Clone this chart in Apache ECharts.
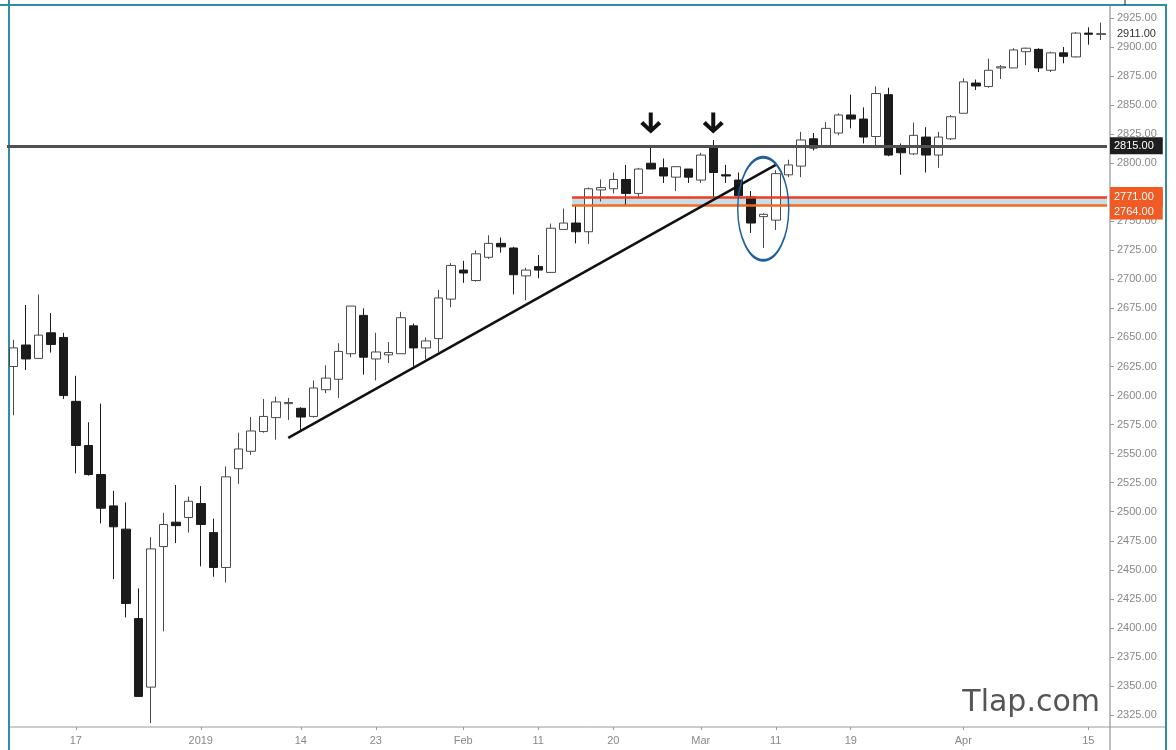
<!DOCTYPE html>
<html style="height: 100%;">
<head>
    <meta charset="utf-8">
    <title>S&amp;P candles</title>
    <script src="https://cdn.jsdelivr.net/npm/echarts@6/dist/echarts.min.js"></script>
    <style>
        html, body { height: 100%; margin: 0; padding: 0; background: #fff; }
        #main { width: 1176px; height: 750px; }
    </style>
</head>
<body>
    <div id="main"></div>
    <script type="text/javascript">
        // trading days, Dec 10 2018 .. Apr 16 2019
        var dates = [
            '12-10', '12-11', '12-12', '12-13', '12-14', '12-17', '12-18', '12-19', '12-20', '12-21', '12-24', '12-26', '12-27', '12-28', '12-31',
            '01-02', '01-03', '01-04', '01-07', '01-08', '01-09', '01-10', '01-11', '01-14', '01-15', '01-16', '01-17', '01-18', '01-22', '01-23', '01-24', '01-25', '01-28', '01-29', '01-30', '01-31',
            '02-01', '02-04', '02-05', '02-06', '02-07', '02-08', '02-11', '02-12', '02-13', '02-14', '02-15', '02-19', '02-20', '02-21', '02-22', '02-25', '02-26', '02-27', '02-28',
            '03-01', '03-04', '03-05', '03-06', '03-07', '03-08', '03-11', '03-12', '03-13', '03-14', '03-15', '03-18', '03-19', '03-20', '03-21', '03-22', '03-25', '03-26', '03-27', '03-28', '03-29',
            '04-01', '04-02', '04-03', '04-04', '04-05', '04-08', '04-09', '04-10', '04-11', '04-12', '04-15', '04-16'
        ];
        var opens = [
            2625, 2643.5, 2632, 2654, 2650, 2595, 2557, 2532, 2505, 2485, 2408, 2349, 2470, 2491, 2495,
            2507, 2482, 2452, 2537, 2552, 2569, 2581, 2593, 2589, 2582, 2605, 2614, 2636, 2669, 2631.5, 2635, 2636, 2660, 2641, 2649, 2683,
            2708, 2699, 2719, 2731, 2727, 2703, 2711, 2706, 2743, 2748.5, 2741, 2777, 2778, 2786, 2774, 2800, 2796, 2788, 2795,
            2785.5, 2814, 2790, 2785.5, 2771, 2754, 2751, 2790, 2797.5, 2821, 2814, 2826, 2841.5, 2838, 2823, 2859, 2814, 2808, 2822.5, 2807, 2821,
            2843, 2869, 2866, 2882, 2882, 2896, 2898, 2880, 2895, 2891.5, 2912, 2911
        ];
        var closes = [
            2641, 2631.5, 2652, 2644, 2600, 2557, 2532, 2503, 2487, 2421, 2341, 2468, 2489, 2488, 2509,
            2489, 2452, 2530, 2554, 2569.5, 2582, 2594.5, 2594, 2581.5, 2606.5, 2615, 2638, 2677, 2633, 2637.5, 2637, 2667, 2641, 2647, 2684, 2712,
            2705.5, 2722, 2731, 2728, 2704, 2708, 2708, 2744, 2748.5, 2741, 2778, 2779, 2786, 2774, 2795, 2795, 2789, 2797, 2788,
            2807, 2792, 2789, 2772, 2748.5, 2756, 2791, 2798.5, 2820, 2813, 2830, 2841.5, 2838, 2822.5, 2860, 2807, 2809, 2824, 2807, 2822.5, 2840,
            2870, 2866.5, 2880, 2883, 2897.5, 2899, 2882, 2895, 2892, 2912, 2911, 2911.5
        ];
        var lows = [
            2583, 2622, 2632, 2637, 2597, 2533, 2531, 2490, 2442, 2409, 2341, 2318, 2397, 2473, 2482,
            2453, 2444, 2439, 2524, 2549, 2568, 2562, 2579, 2570, 2581, 2602, 2598, 2633, 2618, 2613, 2628, 2636, 2625, 2631, 2637.5, 2676,
            2697, 2698, 2717.5, 2723, 2687, 2682, 2701, 2706, 2743, 2731, 2730.5, 2767, 2774, 2764, 2771, 2795, 2783, 2776, 2783,
            2783, 2770, 2783, 2771, 2740, 2727, 2742.5, 2788, 2788, 2811, 2813, 2824, 2830, 2817, 2814, 2806, 2790, 2807, 2792, 2796, 2820,
            2843, 2863, 2865, 2872.5, 2882, 2884.5, 2878.5, 2878.5, 2886, 2891, 2902, 2906
        ];
        var highs = [
            2648, 2678, 2687, 2671, 2654, 2617, 2577, 2593, 2518, 2508, 2434, 2478, 2499, 2523, 2513,
            2522, 2494, 2539, 2568, 2581.5, 2597, 2599, 2598, 2590, 2613, 2626, 2645, 2677, 2675, 2654, 2646, 2672, 2662, 2650, 2691, 2714,
            2716, 2725, 2738, 2736, 2728, 2710, 2721, 2748, 2761, 2764, 2779, 2786, 2792, 2798.5, 2796, 2814, 2804, 2797, 2795,
            2809, 2820, 2798.5, 2792, 2776, 2757, 2794, 2803, 2827, 2826, 2835.5, 2843, 2859, 2848, 2866, 2865, 2817, 2835, 2831, 2827, 2841.5,
            2873, 2872, 2890, 2884.5, 2899, 2899.5, 2899, 2896, 2900, 2913, 2917, 2921
        ];
        // x axis labels (index into dates)
        var tickIndex = [5, 15, 23, 29, 36, 42, 48, 55, 61, 67, 76, 86];
        var tickText = ['17', '2019', '14', '23', 'Feb', '11', '20', 'Mar', '11', '19', 'Apr', '15'];
        // price levels drawn on the chart
        var resistance = 2815;
        var zoneTop = 2771;
        var zoneBottom = 2764;
        var zoneStart = 44.7;
        var lastPrice = 2911;
        var trendFrom = [22, 2563.5];
        var trendTo = [61, 2798.5];
        var arrowAt = [[51, 2834.6], [56, 2834.6]];
        var circleAt = [60, 2760.8];

        // day index on a value axis, so annotations can run to the axis edge
        var xMin = -0.5;
        var xMax = dates.length - 0.5;

        var candles = dates.map(function (d, i) {
            return [i, opens[i], closes[i], lows[i], highs[i]];
        });
        var tickLabel = {};
        tickIndex.forEach(function (idx, k) { tickLabel[idx] = tickText[k]; });
        function isTick(idx) { return tickLabel[idx] !== undefined; }

        var arrowPath = 'path://M8.5,0 L12.5,0 L12.5,14 L18,8.5 L21,11.5 L10.5,21 L0,11.5 L3,8.5 L8.5,14 Z';
        var boxLabel = function (text, bg, padding) {
            return {
                show: true, position: 'end', distance: 3, formatter: text,
                color: '#fff', backgroundColor: bg, padding: padding || [2, 9, 2, 4],
                fontSize: 11, lineHeight: 13, fontFamily: 'Liberation Sans'
            };
        };

        var myChart = echarts.init(document.getElementById('main'));
        var option = {
            animation: false,
            backgroundColor: '#fff',
            grid: { left: 7, right: 69, top: 18, bottom: 35 },
            xAxis: [{
                type: 'value',
                min: xMin,
                max: xMax,
                show: false
            }, {
                // date labels only
                type: 'category',
                data: dates,
                boundaryGap: true,
                position: 'bottom',
                offset: 12,
                axisLine: { show: false },
                axisTick: {
                    show: true, alignWithLabel: true, length: 3,
                    interval: function (idx) { return isTick(idx); },
                    lineStyle: { color: '#999' }
                },
                axisLabel: {
                    interval: function (idx) { return isTick(idx); },
                    formatter: function (v, idx) { return tickLabel[idx] || ''; },
                    color: '#888', fontSize: 11, margin: 8, fontFamily: 'Liberation Sans'
                },
                splitLine: { show: false }
            }],
            yAxis: {
                type: 'value',
                position: 'right',
                min: 2325,
                max: 2925,
                interval: 25,
                offset: 3,
                axisLine: { show: false, onZero: false },
                axisTick: { show: true, length: 4, lineStyle: { color: '#999' } },
                axisLabel: {
                    formatter: function (v) { return v.toFixed(2); },
                    color: '#888', fontSize: 11, margin: 7, fontFamily: 'Liberation Sans'
                },
                splitLine: { show: false }
            },
            series: [{
                type: 'candlestick',
                xAxisIndex: 0,
                data: candles,
                encode: { x: 0, y: [1, 2, 3, 4] },
                barWidth: 9,
                clip: false,
                itemStyle: {
                    color: '#ffffff',
                    borderColor: '#4a4a4a',
                    color0: '#1b1b1b',
                    borderColor0: '#1b1b1b',
                    borderWidth: 1
                },
                markArea: {
                    silent: true,
                    itemStyle: { color: '#c9dde6' },
                    data: [[{ coord: [zoneStart, zoneTop] }, { coord: [xMax, zoneBottom] }]]
                },
                markLine: {
                    silent: true,
                    symbol: ['none', 'none'],
                    data: [
                        [{
                            coord: [xMin, resistance],
                            lineStyle: { color: '#505050', width: 3, type: 'solid' },
                            label: boxLabel(resistance.toFixed(2), '#1e1e1e')
                        }, { coord: [xMax, resistance] }],
                        [{
                            coord: [zoneStart, zoneBottom],
                            lineStyle: { color: '#f26a22', width: 2.5, type: 'solid' },
                            // blank first line pushes the text below the 2771 box
                            label: boxLabel('\n' + zoneBottom.toFixed(2), '#f05a24', [1, 9, 2, 4])
                        }, { coord: [xMax, zoneBottom] }],
                        [{
                            coord: [zoneStart, zoneTop],
                            lineStyle: { color: '#ea3f26', width: 2.5, type: 'solid' },
                            label: boxLabel(zoneTop.toFixed(2), '#f05a24', [5, 9, 2, 4])
                        }, { coord: [xMax, zoneTop] }],
                        [{
                            coord: [86.7, lastPrice],
                            lineStyle: { color: '#555', width: 1, type: [3, 3] },
                            label: {
                                show: true, position: 'end', distance: 10, formatter: lastPrice.toFixed(2),
                                color: '#333', fontSize: 11, fontFamily: 'Liberation Sans'
                            }
                        }, { coord: [xMax, lastPrice] }],
                        [{
                            coord: trendFrom,
                            lineStyle: { color: '#111', width: 2.5, type: 'solid' },
                            label: { show: false }
                        }, { coord: trendTo }]
                    ]
                },
                markPoint: {
                    silent: true,
                    label: { show: false },
                    data: [
                        { coord: arrowAt[0], symbol: arrowPath, symbolSize: [21, 21], itemStyle: { color: '#111' } },
                        { coord: arrowAt[1], symbol: arrowPath, symbolSize: [21, 21], itemStyle: { color: '#111' } },
                        {
                            coord: circleAt, symbol: 'circle', symbolSize: [51, 103],
                            itemStyle: { color: 'rgba(0,0,0,0)', borderColor: '#1f5f9c', borderWidth: 2 }
                        }
                    ]
                }
            }],
            graphic: [
                { type: 'line', shape: { x1: 9, y1: 0, x2: 9, y2: 750 }, style: { stroke: '#2f8ea2', lineWidth: 2 } },
                { type: 'line', shape: { x1: 0, y1: 5, x2: 1167, y2: 5 }, style: { stroke: '#2f8ea2', lineWidth: 2 } },
                { type: 'line', shape: { x1: 1166, y1: 5, x2: 1166, y2: 750 }, style: { stroke: '#2f8ea2', lineWidth: 2 } },
                { type: 'line', shape: { x1: 1125, y1: 0, x2: 1125, y2: 5 }, style: { stroke: '#222', lineWidth: 1 } },
                { type: 'line', shape: { x1: 1110, y1: 6, x2: 1110, y2: 750 }, style: { stroke: '#aaa', lineWidth: 1.5 } },
                { type: 'line', shape: { x1: 10, y1: 727, x2: 1165, y2: 727 }, style: { stroke: '#999', lineWidth: 1 } },
                {
                    type: 'text', right: 76, top: 688,
                    style: { text: 'Tlap.com', font: '30px "DejaVu Sans"', fill: '#555' }
                }
            ]
        };
        myChart.setOption(option);
    </script>
</body>
</html>
